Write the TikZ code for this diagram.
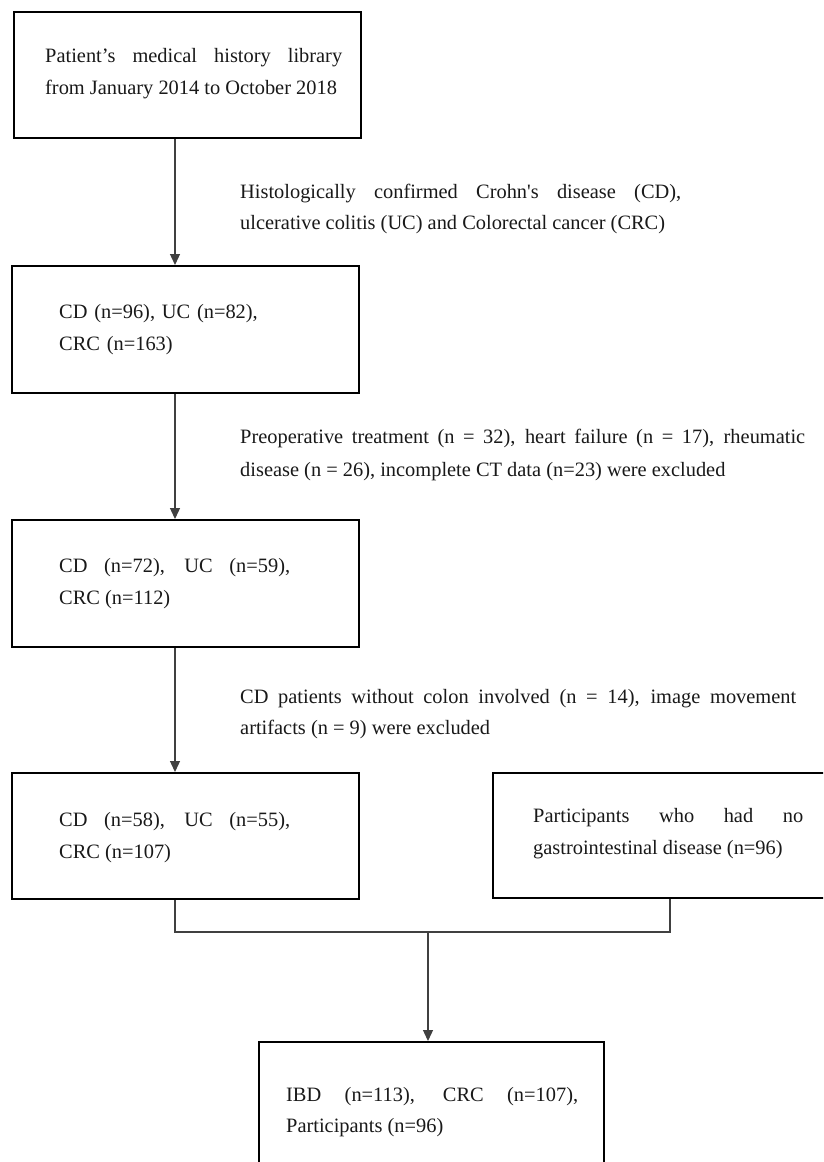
\documentclass[tikz,border=0pt]{standalone}
\usepackage{fontspec}
\setmainfont{Liberation Serif}
\usetikzlibrary{arrows.meta}
\begin{document}
\begin{tikzpicture}[x=1pt,y=-1pt,
  box/.style={draw=black, line width=2.4pt, rectangle, anchor=north west, inner sep=0pt},
  txt/.style={anchor=base west, inner sep=0pt, align=justify, text=black!90,
    font=\fontsize{20.4}{32}\selectfont,
    execute at begin node={\hyphenpenalty=10000\exhyphenpenalty=10000\tolerance=10000\hbadness=10000}},
  conn/.style={draw=black!75, line width=1.3pt},
  arr/.style={conn, -{Triangle[length=11pt,width=10pt]}}]
\clip (0,0) rectangle (823,1162);
\fill[white] (0,0) rectangle (823,1162);

% boxes
\node[box, minimum width=347pt, minimum height=126pt] (b1) at (13,11) {};
\node[box, minimum width=347pt, minimum height=127pt] (b2) at (11,265) {};
\node[box, minimum width=347pt, minimum height=127pt] (b3) at (11,519) {};
\node[box, minimum width=347pt, minimum height=126pt] (b4) at (11,772) {};
\node[box, minimum width=345pt, minimum height=125pt] (rb) at (492,772) {};
\node[box, minimum width=345pt, minimum height=160pt] (bb) at (258,1041) {};

% box texts
\node[txt, text width=297pt] (t1) at (45,62) {Patient’s medical history library\linebreak from January 2014 to October 2018};
\node[txt, text width=231pt, align=left] (t2) at (59,318) {CD (n=96), UC (n=82),\\ CRC (n=163)};
\node[txt, text width=231pt] (t3) at (59,572) {CD (n=72), UC (n=59),\linebreak CRC (n=112)};
\node[txt, text width=231pt] (t4) at (59,826) {CD (n=58), UC (n=55),\linebreak CRC (n=107)};
\node[txt, text width=270pt] (tr) at (533,822) {Participants who had no\linebreak gastrointestinal disease (n=96)};
\node[txt, text width=292pt, font=\fontsize{20.4}{31}\selectfont] (tb) at (286,1101) {IBD (n=113), CRC (n=107),\linebreak Participants (n=96)};

% connector labels
\node[txt, text width=441pt, font=\fontsize{20.4}{31}\selectfont] (l1) at (240,198) {Histologically confirmed Crohn\textquotesingle s disease (CD),\linebreak ulcerative colitis (UC) and Colorectal cancer (CRC)};
\node[txt, text width=565pt, font=\fontsize{20.4}{33}\selectfont] (l2) at (240,443) {Preoperative treatment (n = 32), heart failure (n = 17), rheumatic\linebreak disease (n = 26), incomplete CT data (n=23) were excluded};
\node[txt, text width=556pt, font=\fontsize{20.4}{31}\selectfont] (l3) at (240,703) {CD patients without colon involved (n = 14), image movement\linebreak artifacts (n = 9) were excluded};

% connectors
\coordinate (ax) at (175,0);
\draw[arr] (b1.south -| ax) -- (b2.north -| ax);
\draw[arr] (b2.south -| ax) -- (b3.north -| ax);
\draw[arr] (b3.south -| ax) -- (b4.north -| ax);
\coordinate (jl) at (175,932);
\coordinate (jr) at (670,932);
\coordinate (jm) at (428,932);
\draw[conn] (b4.south -| jl) -- (jl) -- (jr) -- (rb.south -| jr);
\draw[arr] (jm) -- (bb.north -| jm);
\end{tikzpicture}
\end{document}
